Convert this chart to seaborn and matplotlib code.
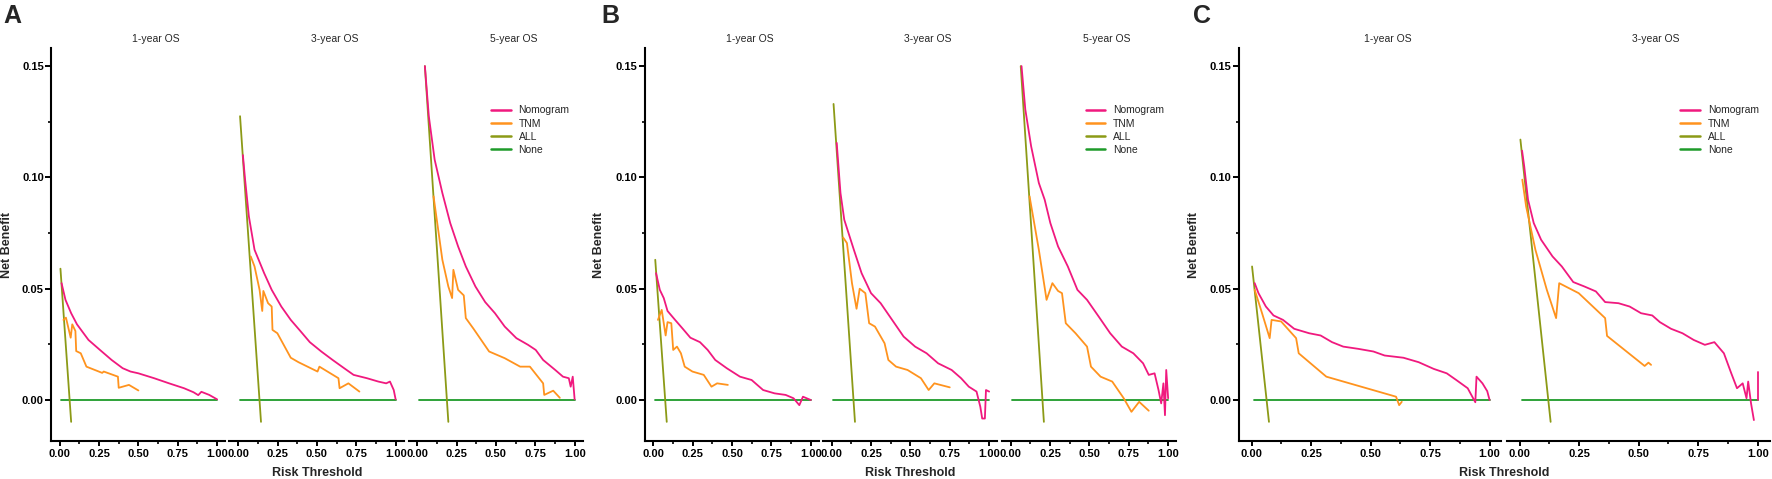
import pandas as pd
import matplotlib.pyplot as plt
import seaborn as sns
from matplotlib.lines import Line2D

# ---------------- data ----------------
MODELS = ["Nomogram", "TNM", "ALL", "None"]
COLORS = ["#F0197E", "#FF931E", "#8C9A16", "#1E9B2A"]

X_TICKS = [0.0, 0.25, 0.5, 0.75, 1.0]
X_TICK_LABELS = ["0.00", "0.25", "0.50", "0.75", "1.00"]
Y_TICKS = [0.0, 0.05, 0.10, 0.15]
Y_TICK_LABELS = ["0.00", "0.05", "0.10", "0.15"]

NONE_X = [0.01, 1.0]
NONE_Y = [0.0, 0.0]

# panel A
A1_NOM_X = [0.012, 0.037, 0.073, 0.11, 0.183, 0.256, 0.33, 0.40, 0.45, 0.50, 0.60, 0.695, 0.79, 0.85, 0.88, 0.90, 0.95, 1.0]
A1_NOM_Y = [0.0525, 0.045, 0.039, 0.034, 0.027, 0.0225, 0.018, 0.0143, 0.0128, 0.012, 0.0098, 0.0075, 0.0053, 0.0035, 0.0022, 0.0037, 0.0023, 0.0003]
A1_TNM_X = [0.024, 0.04, 0.07, 0.08, 0.10, 0.105, 0.134, 0.17, 0.27, 0.28, 0.37, 0.375, 0.44, 0.50]
A1_TNM_Y = [0.036, 0.037, 0.028, 0.034, 0.031, 0.022, 0.021, 0.015, 0.0122, 0.0128, 0.0105, 0.0055, 0.0068, 0.0043]
A1_ALL_X = [0.005, 0.073]
A1_ALL_Y = [0.059, -0.0098]

A2_NOM_X = [0.03, 0.044, 0.068, 0.104, 0.165, 0.213, 0.274, 0.334, 0.395, 0.455, 0.528, 0.60, 0.673, 0.733, 0.818, 0.89, 0.94, 0.964, 0.988, 1.0]
A2_NOM_Y = [0.11, 0.099, 0.0825, 0.0675, 0.057, 0.0495, 0.042, 0.036, 0.031, 0.026, 0.0218, 0.018, 0.0143, 0.0113, 0.0098, 0.0083, 0.0075, 0.0083, 0.0045, 0.0003]
A2_TNM_X = [0.08, 0.104, 0.136, 0.153, 0.16, 0.19, 0.213, 0.218, 0.249, 0.334, 0.383, 0.504, 0.516, 0.637, 0.644, 0.70, 0.77]
A2_TNM_Y = [0.0645, 0.06, 0.0495, 0.040, 0.049, 0.0435, 0.042, 0.0315, 0.030, 0.019, 0.017, 0.0128, 0.015, 0.0098, 0.0053, 0.0075, 0.0038]
A2_ALL_X = [0.012, 0.145]
A2_ALL_Y = [0.1275, -0.0098]

A3_NOM_X = [0.049, 0.074, 0.111, 0.16, 0.21, 0.26, 0.309, 0.37, 0.432, 0.494, 0.556, 0.63, 0.704, 0.753, 0.80, 0.877, 0.926, 0.963, 0.975, 0.988, 1.0]
A3_NOM_Y = [0.150, 0.1275, 0.108, 0.093, 0.0795, 0.069, 0.060, 0.051, 0.044, 0.039, 0.033, 0.0278, 0.0248, 0.0225, 0.018, 0.0135, 0.0105, 0.0098, 0.006, 0.0105, 0.0003]
A3_TNM_X = [0.104, 0.16, 0.198, 0.222, 0.23, 0.26, 0.296, 0.309, 0.358, 0.457, 0.556, 0.654, 0.716, 0.80, 0.807, 0.864, 0.906]
A3_TNM_Y = [0.0915, 0.063, 0.051, 0.0458, 0.0585, 0.0495, 0.047, 0.0368, 0.032, 0.0218, 0.0188, 0.015, 0.015, 0.0075, 0.0023, 0.0042, 0.001]
A3_ALL_X = [0.049, 0.198]
A3_ALL_Y = [0.150, -0.0098]

# panel B
B1_NOM_X = [0.017, 0.041, 0.066, 0.09, 0.138, 0.187, 0.235, 0.296, 0.345, 0.393, 0.466, 0.55, 0.624, 0.697, 0.77, 0.84, 0.89, 0.927, 0.95, 1.0]
B1_NOM_Y = [0.057, 0.0495, 0.0458, 0.040, 0.036, 0.032, 0.028, 0.026, 0.0225, 0.018, 0.0143, 0.0105, 0.009, 0.0045, 0.003, 0.0023, 0.0008, -0.0023, 0.0015, 0.0]
B1_TNM_X = [0.029, 0.053, 0.078, 0.09, 0.114, 0.126, 0.15, 0.175, 0.199, 0.248, 0.32, 0.369, 0.405, 0.473]
B1_TNM_Y = [0.036, 0.0405, 0.029, 0.035, 0.0345, 0.0225, 0.024, 0.021, 0.015, 0.0128, 0.0113, 0.006, 0.0075, 0.0068]
B1_ALL_X = [0.012, 0.085]
B1_ALL_Y = [0.063, -0.0098]

B2_NOM_X = [0.032, 0.056, 0.08, 0.141, 0.19, 0.25, 0.311, 0.384, 0.457, 0.53, 0.603, 0.676, 0.762, 0.822, 0.871, 0.92, 0.944, 0.956, 0.973, 0.98, 1.0]
B2_NOM_Y = [0.1155, 0.093, 0.081, 0.0675, 0.057, 0.048, 0.0435, 0.036, 0.0285, 0.024, 0.021, 0.0165, 0.0135, 0.0098, 0.006, 0.0038, -0.003, -0.0083, -0.0083, 0.0045, 0.0038]
B2_TNM_X = [0.073, 0.097, 0.129, 0.158, 0.178, 0.214, 0.238, 0.275, 0.336, 0.36, 0.409, 0.482, 0.567, 0.616, 0.652, 0.75]
B2_TNM_Y = [0.073, 0.0705, 0.0525, 0.041, 0.050, 0.048, 0.0345, 0.033, 0.0255, 0.018, 0.015, 0.0135, 0.0098, 0.0045, 0.0075, 0.0057]
B2_ALL_X = [0.012, 0.148]
B2_ALL_Y = [0.133, -0.0098]

B3_NOM_X = [0.069, 0.093, 0.13, 0.179, 0.216, 0.252, 0.301, 0.363, 0.424, 0.485, 0.559, 0.632, 0.706, 0.779, 0.841, 0.877, 0.914, 0.939, 0.956, 0.97, 0.98, 0.988, 1.0]
B3_NOM_Y = [0.150, 0.1305, 0.114, 0.0975, 0.090, 0.0795, 0.069, 0.060, 0.0495, 0.045, 0.0375, 0.030, 0.024, 0.021, 0.0165, 0.0113, 0.012, 0.0045, -0.0015, 0.0075, -0.0068, 0.0135, 0.0008]
B3_TNM_X = [0.12, 0.179, 0.228, 0.265, 0.301, 0.326, 0.35, 0.412, 0.485, 0.51, 0.571, 0.645, 0.718, 0.767, 0.816, 0.877]
B3_TNM_Y = [0.0915, 0.0675, 0.045, 0.0525, 0.049, 0.048, 0.0345, 0.030, 0.024, 0.015, 0.0105, 0.0083, 0.0008, -0.0053, -0.0008, -0.0048]
B3_ALL_X = [0.064, 0.211]
B3_ALL_Y = [0.150, -0.0098]

# panel C
C1_NOM_X = [0.013, 0.029, 0.06, 0.092, 0.132, 0.179, 0.242, 0.29, 0.338, 0.385, 0.448, 0.512, 0.559, 0.638, 0.702, 0.765, 0.82, 0.86, 0.908, 0.94, 0.945, 0.97, 0.99, 1.0]
C1_NOM_Y = [0.0525, 0.048, 0.042, 0.038, 0.036, 0.032, 0.030, 0.029, 0.026, 0.024, 0.023, 0.0218, 0.020, 0.019, 0.017, 0.014, 0.012, 0.009, 0.0053, -0.001, 0.0105, 0.0075, 0.004, 0.0]
C1_TNM_X = [0.013, 0.044, 0.076, 0.084, 0.124, 0.187, 0.198, 0.314, 0.607, 0.62, 0.631]
C1_TNM_Y = [0.0495, 0.039, 0.0278, 0.036, 0.0353, 0.0278, 0.021, 0.0105, 0.0015, -0.0023, -0.0008]
C1_ALL_X = [0.002, 0.073]
C1_ALL_Y = [0.060, -0.0098]

C2_NOM_X = [0.01, 0.019, 0.035, 0.059, 0.09, 0.138, 0.177, 0.225, 0.272, 0.32, 0.359, 0.415, 0.462, 0.51, 0.557, 0.589, 0.636, 0.684, 0.731, 0.778, 0.818, 0.858, 0.889, 0.913, 0.937, 0.953, 0.96, 0.972, 0.984]
C2_NOM_Y = [0.112, 0.105, 0.09, 0.0795, 0.072, 0.0645, 0.060, 0.053, 0.051, 0.0488, 0.044, 0.0435, 0.042, 0.039, 0.038, 0.035, 0.032, 0.030, 0.027, 0.0248, 0.026, 0.021, 0.012, 0.0053, 0.0075, 0.0008, 0.0083, -0.0015, -0.009]
C2_NOM_TAIL_X = [1.0, 1.0]
C2_NOM_TAIL_Y = [0.0, 0.0128]
C2_TNM_X = [0.011, 0.027, 0.066, 0.114, 0.153, 0.166, 0.248, 0.359, 0.367, 0.525, 0.541, 0.552]
C2_TNM_Y = [0.099, 0.087, 0.0675, 0.0495, 0.0368, 0.0525, 0.048, 0.0368, 0.0288, 0.0153, 0.0168, 0.0158]
C2_ALL_X = [0.003, 0.13]
C2_ALL_Y = [0.117, -0.0098]

# ---------------- layout (pixels of a 1772x479 canvas) ----------------
W, H = 1772, 479
AX_TOP, AX_BOTTOM = 48.3, 441.0

sns.set_theme(style="ticks")
plt.rcParams["font.family"] = ["Liberation Sans", "DejaVu Sans"]

fig = plt.figure(figsize=(W / 100, H / 100), dpi=100)


def frame(pieces):
    rows = []
    for model, seg, xs, ys in pieces:
        for x, y in zip(xs, ys):
            rows.append((model, seg, x, y))
    return pd.DataFrame(rows, columns=["model", "seg", "threshold", "net_benefit"])


def draw_facet(left_px, width_px, title, pieces, first, legend_x):
    ax = fig.add_axes([left_px / W, 1 - AX_BOTTOM / H, width_px / W, (AX_BOTTOM - AX_TOP) / H])
    df = frame(pieces)
    draw_order = ["None", "ALL", "TNM", "Nomogram"]
    sns.lineplot(data=df, x="threshold", y="net_benefit", hue="model", units="seg",
                 hue_order=draw_order, palette=dict(zip(MODELS, COLORS)),
                 estimator=None, sort=False, linewidth=1.3, legend=False, ax=ax)
    ax.set_xlim(-0.055, 1.05)
    ax.set_ylim(-0.0184, 0.158)
    ax.set_xticks(X_TICKS)
    ax.set_xticklabels(X_TICK_LABELS, fontweight="bold", fontsize=8)
    ax.set_xticks([0.125, 0.375, 0.625, 0.875], minor=True)
    ax.set_xlabel("")
    ax.set_ylabel("")
    ax.tick_params(axis="x", which="major", length=3.8, width=1.4, pad=2.3, colors="black")
    ax.tick_params(axis="x", which="minor", length=2.0, width=1.2, colors="black")
    for side in ["top", "right"]:
        ax.spines[side].set_visible(False)
    ax.spines["bottom"].set_linewidth(1.5)
    ax.spines["bottom"].set_color("black")
    if first:
        ax.set_yticks(Y_TICKS)
        ax.set_yticklabels(Y_TICK_LABELS, fontweight="bold", fontsize=8)
        ax.set_yticks([0.025, 0.075, 0.125], minor=True)
        ax.tick_params(axis="y", which="major", length=4.0, width=1.4, pad=1.2, colors="black")
        ax.tick_params(axis="y", which="minor", length=2.0, width=1.2, colors="black")
        ax.spines["left"].set_linewidth(1.5)
        ax.spines["left"].set_color("black")
    else:
        ax.spines["left"].set_visible(False)
        ax.tick_params(axis="y", which="both", left=False, labelleft=False)
    ax.text(0.5 + 18 / width_px, 1 + (AX_TOP - 42.5) / (AX_BOTTOM - AX_TOP), title,
            transform=ax.transAxes, ha="center", va="baseline", fontsize=7.5)
    if legend_x is not None:
        handles = [Line2D([], [], color=c, linewidth=1.8) for c in COLORS]
        ax.legend(handles, MODELS, loc="upper left",
                  bbox_to_anchor=(legend_x, 1 - (105.4 - AX_TOP) / (AX_BOTTOM - AX_TOP)),
                  frameon=False, fontsize=7.5, borderpad=0, borderaxespad=0,
                  handlelength=1.9, handletextpad=0.75, labelspacing=0.3)
    return ax


def draw_panel(letter, lefts, width_px, titles, facets, ylabel_px, letter_px, legend_x):
    for i, (left, title, pieces) in enumerate(zip(lefts, titles, facets)):
        last = i == len(lefts) - 1
        draw_facet(left, width_px, title, pieces, i == 0, legend_x if last else None)
    fig.text(letter_px / W, 1 - 23.3 / H, letter, fontsize=18, fontweight="bold", ha="left", va="baseline")
    fig.text(ylabel_px / W, 1 - (AX_TOP + AX_BOTTOM) / 2 / H, "Net Benefit", rotation=90,
             fontsize=9, fontweight="bold", ha="center", va="center")
    centre = (lefts[0] + lefts[-1] + width_px) / 2
    fig.text(centre / W, 1 - 476.5 / H, "Risk Threshold", fontsize=9, fontweight="bold",
             ha="center", va="baseline")


def pieces(nx, ny, tx, ty, ax_, ay, extra=None):
    out = [("None", 0, NONE_X, NONE_Y), ("ALL", 0, ax_, ay), ("TNM", 0, tx, ty), ("Nomogram", 0, nx, ny)]
    if extra is not None:
        out.append(("Nomogram", 1, extra[0], extra[1]))
    return out


draw_panel("A", [51, 229.5, 408.5], 174, ["1-year OS", "3-year OS", "5-year OS"],
           [pieces(A1_NOM_X, A1_NOM_Y, A1_TNM_X, A1_TNM_Y, A1_ALL_X, A1_ALL_Y),
            pieces(A2_NOM_X, A2_NOM_Y, A2_TNM_X, A2_TNM_Y, A2_ALL_X, A2_ALL_Y),
            pieces(A3_NOM_X, A3_NOM_Y, A3_TNM_X, A3_TNM_Y, A3_ALL_X, A3_ALL_Y)],
           6.7, 3.5, 0.474)

draw_panel("B", [644.7, 823, 1002], 174, ["1-year OS", "3-year OS", "5-year OS"],
           [pieces(B1_NOM_X, B1_NOM_Y, B1_TNM_X, B1_TNM_Y, B1_ALL_X, B1_ALL_Y),
            pieces(B2_NOM_X, B2_NOM_Y, B2_TNM_X, B2_TNM_Y, B2_ALL_X, B2_ALL_Y),
            pieces(B3_NOM_X, B3_NOM_Y, B3_TNM_X, B3_TNM_Y, B3_ALL_X, B3_ALL_Y)],
           599.5, 601, 0.48)

draw_panel("C", [1238.5, 1506.6], 263, ["1-year OS", "3-year OS"],
           [pieces(C1_NOM_X, C1_NOM_Y, C1_TNM_X, C1_TNM_Y, C1_ALL_X, C1_ALL_Y),
            pieces(C2_NOM_X, C2_NOM_Y, C2_TNM_X, C2_TNM_Y, C2_ALL_X, C2_ALL_Y,
                   extra=(C2_NOM_TAIL_X, C2_NOM_TAIL_Y))],
           1193.6, 1192.5, 0.66)

fig.savefig("out.png", dpi=100)
